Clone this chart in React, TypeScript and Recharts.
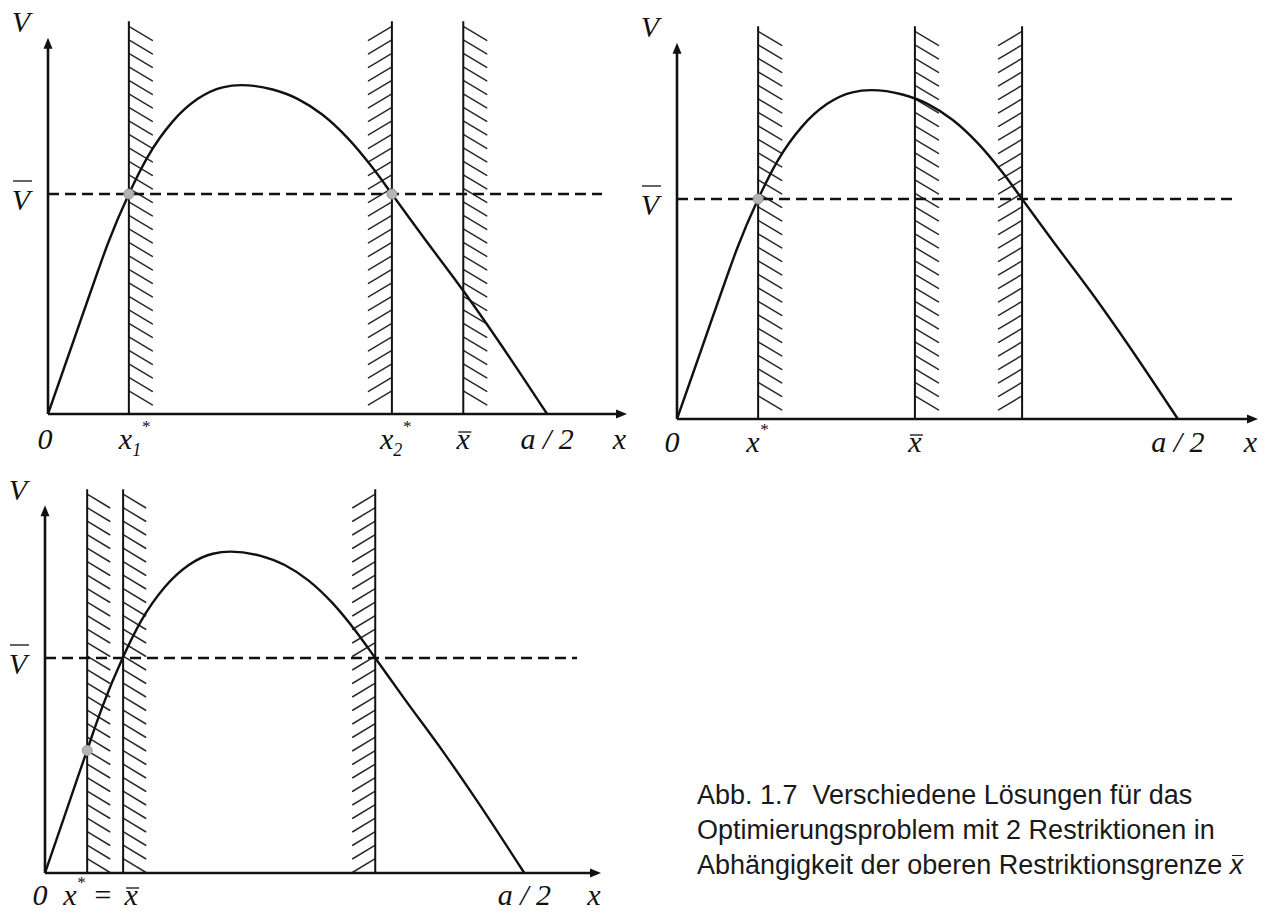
import React from 'react';
import {
  LineChart,
  Line,
  XAxis,
  YAxis,
  ReferenceLine,
  ReferenceArea,
  ReferenceDot,
} from 'recharts';

// Value function V(x), in units where a/2 = 10 and the threshold V̄ = 2
const curveX = [0, 0.5, 1.0, 1.2, 1.62, 2.0, 2.5, 3.0, 3.5, 3.87, 4.5, 5.0, 5.5, 6.0, 6.5, 6.89, 7.5, 8.32, 9.0, 10];
const curveV = [0, 0.65, 1.3, 1.55, 2.0, 2.34, 2.66, 2.865, 2.97, 2.99, 2.95, 2.865, 2.72, 2.51, 2.24, 2.0, 1.62, 1.12, 0.68, 0];

const vBar = 2;
const xAxisEnd = 11.6;
const yAxisEnd = 3.42;
const dashEnd = 11.1;
const boundTop = 3.57;
const hatchWidth = 0.47;
const yLabelTop = 3.56;

type Seg = { t: string; sub?: boolean; sup?: boolean; bar?: boolean };

// Panel A: two feasible points x1*, x2*, upper bound x̄ beyond them
const boundsA = [1.62, 6.89, 8.32];
const sidesA = ['right', 'left', 'right'];
const dotsAx = [1.62, 6.89];
const dotsAy = [2, 2];
const ticksA = [0, 1.62, 6.89, 8.32, 10, 11.45];
const labelsA: Seg[][] = [
  [{ t: '0' }],
  [{ t: 'x' }, { t: '1', sub: true }, { t: '*', sup: true }],
  [{ t: 'x' }, { t: '2', sub: true }, { t: '*', sup: true }],
  [{ t: 'x', bar: true }],
  [{ t: 'a / 2' }],
  [{ t: 'x' }],
];

// Panel B: upper bound x̄ between the two crossings
const boundsB = [1.62, 4.75, 6.89];
const sidesB = ['right', 'right', 'left'];
const dotsBx = [1.62];
const dotsBy = [2];
const ticksB = [0, 1.62, 4.75, 10, 11.45];
const labelsB: Seg[][] = [
  [{ t: '0' }],
  [{ t: 'x' }, { t: '*', sup: true }],
  [{ t: 'x', bar: true }],
  [{ t: 'a / 2' }],
  [{ t: 'x' }],
];

// Panel C: upper bound x̄ left of the first crossing
const boundsC = [0.88, 1.63, 6.89];
const sidesC = ['right', 'right', 'left'];
const dotsCx = [0.88];
const dotsCy = [1.14];
const ticksC = [0, 0.88, 1.63, 10, 11.45];
const labelsC: Seg[][] = [
  [{ t: '0' }],
  [{ t: 'x' }, { t: '*', sup: true }, { t: ' =' }],
  [{ t: 'x', bar: true }],
  [{ t: 'a / 2' }],
  [{ t: 'x' }],
];

const yTicks = [vBar, yLabelTop];
const yLabels: Seg[][] = [[{ t: 'V', bar: true }], [{ t: 'V' }]];

const captionLines = [
  'Abb. 1.7  Verschiedene Lösungen für das',
  'Optimierungsproblem mit 2 Restriktionen in',
  'Abhängigkeit der oberen Restriktionsgrenze ',
];

const curveData = curveX.map((x, i) => ({ x, v: curveV[i] }));

const SERIF = "'Liberation Serif', 'Times New Roman', serif";
const INK = '#111';

function MathLabel({ x, y, segs, anchor }: { x: number; y: number; segs: Seg[]; anchor: string }) {
  const common = {
    fontFamily: SERIF,
    fontStyle: 'italic' as const,
    fill: INK,
  };
  // a single barred symbol: glyph plus a thin rule above it
  if (segs.length === 1 && segs[0].bar) {
    const capital = segs[0].t === segs[0].t.toUpperCase();
    const rise = capital ? 29 : 17;
    const half = capital ? 9 : 6;
    return (
      <g>
        <text x={x} y={y} textAnchor="middle" fontSize={30} {...common}>
          {segs[0].t}
        </text>
        <line x1={x - half + 1} x2={x + half + 2} y1={y - rise} y2={y - rise} stroke="#222" strokeWidth={1.4} />
      </g>
    );
  }
  let prev = 0;
  return (
    <text x={x} y={y} textAnchor={anchor as any} fontSize={30} {...common} style={{ whiteSpace: 'pre' }}>
      {segs.map((s, k) => {
        const off = s.sub ? 7 : s.sup ? -17 : 0;
        const dy = off - prev;
        prev = off;
        return (
          <tspan key={k} dy={dy} fontSize={s.sub ? 18 : s.sup ? 17 : 30}>
            {s.t}
          </tspan>
        );
      })}
    </text>
  );
}

function Hatch(props: any) {
  const { x, y, width, height, side } = props;
  const step = 13.5;
  const drop = width * 0.6;
  const lines: React.ReactNode[] = [];
  for (let yy = y + 5; yy + drop <= y + height + 0.5; yy += step) {
    if (side === 'right') {
      lines.push(<line key={yy} x1={x} y1={yy} x2={x + width} y2={yy + drop} />);
    } else {
      lines.push(<line key={yy} x1={x + width} y1={yy} x2={x} y2={yy + drop} />);
    }
  }
  return (
    <g stroke="#2a2a2a" strokeWidth={1.5} strokeLinecap="round">
      {lines}
    </g>
  );
}

function ArrowRight(props: any) {
  const { cx, cy } = props;
  return <polygon points={`${cx},${cy} ${cx - 11},${cy - 4.5} ${cx - 11},${cy + 4.5}`} fill={INK} />;
}

function ArrowUp(props: any) {
  const { cx, cy } = props;
  return <polygon points={`${cx},${cy} ${cx - 4.5},${cy + 11} ${cx + 4.5},${cy + 11}`} fill={INK} />;
}

type PanelProps = {
  left: number;
  top: number;
  width: number;
  height: number;
  margin: { top: number; right: number; left: number; bottom: number };
  yAxisW: number;
  xAxisH: number;
  labelDrop: number;
  bounds: number[];
  sides: string[];
  dotsX: number[];
  dotsY: number[];
  ticks: number[];
  labels: Seg[][];
  shifts: number[];
  anchors: string[];
};

function Panel(p: PanelProps) {
  const XTick = (tp: any) => {
    const i = p.ticks.indexOf(tp.payload.value);
    if (i < 0) return null;
    return <MathLabel x={tp.x + p.shifts[i]} y={tp.y + p.labelDrop} segs={p.labels[i]} anchor={p.anchors[i]} />;
  };
  const YTick = (tp: any) => {
    const i = yTicks.indexOf(tp.payload.value);
    if (i < 0) return null;
    return <MathLabel x={tp.x - 27} y={tp.y + (i === 0 ? 16 : 10)} segs={yLabels[i]} anchor="middle" />;
  };
  return (
    <div style={{ position: 'absolute', left: p.left, top: p.top }}>
      <LineChart width={p.width} height={p.height} data={curveData} margin={p.margin} style={{ overflow: 'visible' }}>
        <XAxis
          type="number"
          dataKey="x"
          domain={[0, xAxisEnd]}
          ticks={p.ticks}
          interval={0}
          allowDataOverflow
          axisLine={false}
          tickLine={false}
          tickSize={0}
          tickMargin={0}
          height={p.xAxisH}
          tick={<XTick />}
        />
        <YAxis
          type="number"
          domain={[0, 3.6]}
          ticks={yTicks}
          interval={0}
          allowDataOverflow
          axisLine={false}
          tickLine={false}
          tickSize={0}
          tickMargin={0}
          width={p.yAxisW}
          tick={<YTick />}
        />
        {p.bounds.map((b, i) => (
          <ReferenceArea
            key={`h${i}`}
            x1={p.sides[i] === 'right' ? b : b - hatchWidth}
            x2={p.sides[i] === 'right' ? b + hatchWidth : b}
            y1={0}
            y2={boundTop}
            shape={(sp: any) => <Hatch {...sp} side={p.sides[i]} />}
          />
        ))}
        {p.bounds.map((b, i) => (
          <ReferenceLine
            key={`b${i}`}
            segment={[
              { x: b, y: 0 },
              { x: b, y: boundTop },
            ]}
            stroke={INK}
            strokeWidth={2}
          />
        ))}
        <ReferenceLine
          segment={[
            { x: 0, y: vBar },
            { x: dashEnd, y: vBar },
          ]}
          stroke={INK}
          strokeWidth={2.6}
          strokeDasharray="11 6"
        />
        <Line
          type="monotone"
          dataKey="v"
          stroke={INK}
          strokeWidth={2.4}
          dot={false}
          activeDot={false}
          isAnimationActive={false}
        />
        <ReferenceLine
          segment={[
            { x: 0, y: 0 },
            { x: xAxisEnd - 0.1, y: 0 },
          ]}
          stroke={INK}
          strokeWidth={2.6}
        />
        <ReferenceLine
          segment={[
            { x: 0, y: 0 },
            { x: 0, y: yAxisEnd - 0.05 },
          ]}
          stroke={INK}
          strokeWidth={2.6}
        />
        <ReferenceDot x={xAxisEnd} y={0} r={1} shape={(sp: any) => <ArrowRight {...sp} />} />
        <ReferenceDot x={0} y={yAxisEnd} r={1} shape={(sp: any) => <ArrowUp {...sp} />} />
        {p.dotsX.map((dx, i) => (
          <ReferenceDot key={`d${i}`} x={dx} y={p.dotsY[i]} r={5} fill="#b4b4b4" stroke="#9a9a9a" strokeWidth={1} />
        ))}
      </LineChart>
    </div>
  );
}

export default function App() {
  return (
    <div style={{ position: 'absolute', left: 0, top: 0, width: 1266, height: 912, background: '#fff', overflow: 'hidden' }}>
      <Panel
        left={0}
        top={0}
        width={640}
        height={460}
        margin={{ top: 18, right: 13, left: 0, bottom: 0 }}
        yAxisW={48}
        xAxisH={46}
        labelDrop={35}
        bounds={boundsA}
        sides={sidesA}
        dotsX={dotsAx}
        dotsY={dotsAy}
        ticks={ticksA}
        labels={labelsA}
        shifts={[-3, -10, -12, 0, 0, 0]}
        anchors={['middle', 'start', 'start', 'middle', 'middle', 'middle']}
      />
      <Panel
        left={628}
        top={0}
        width={638}
        height={460}
        margin={{ top: 23, right: 8, left: 0, bottom: 0 }}
        yAxisW={49}
        xAxisH={41}
        labelDrop={33}
        bounds={boundsB}
        sides={sidesB}
        dotsX={dotsBx}
        dotsY={dotsBy}
        ticks={ticksB}
        labels={labelsB}
        shifts={[-5, -12, 0, 0, 0]}
        anchors={['middle', 'start', 'middle', 'middle', 'middle']}
      />
      <Panel
        left={0}
        top={460}
        width={640}
        height={452}
        margin={{ top: 26, right: 39, left: 0, bottom: 0 }}
        yAxisW={45}
        xAxisH={39}
        labelDrop={32}
        bounds={boundsC}
        sides={sidesC}
        dotsX={dotsCx}
        dotsY={dotsCy}
        ticks={ticksC}
        labels={labelsC}
        shifts={[-5, -24, 8, 0, 0]}
        anchors={['middle', 'start', 'middle', 'middle', 'middle']}
      />
      <div
        style={{
          position: 'absolute',
          left: 697,
          top: 778,
          fontFamily: "'Liberation Sans', Arial, sans-serif",
          fontSize: 27,
          lineHeight: '35px',
          color: '#1a1a1a',
          whiteSpace: 'pre',
        }}
      >
        {captionLines.map((l, i) => (
          <div key={i}>
            {l}
            {i === captionLines.length - 1 ? (
              <span style={{ fontStyle: 'italic', position: 'relative' }}>
                x
                <span
                  style={{
                    position: 'absolute',
                    left: 2,
                    right: 0,
                    top: 5,
                    borderTop: '1.5px solid #1a1a1a',
                  }}
                />
              </span>
            ) : null}
          </div>
        ))}
      </div>
    </div>
  );
}
